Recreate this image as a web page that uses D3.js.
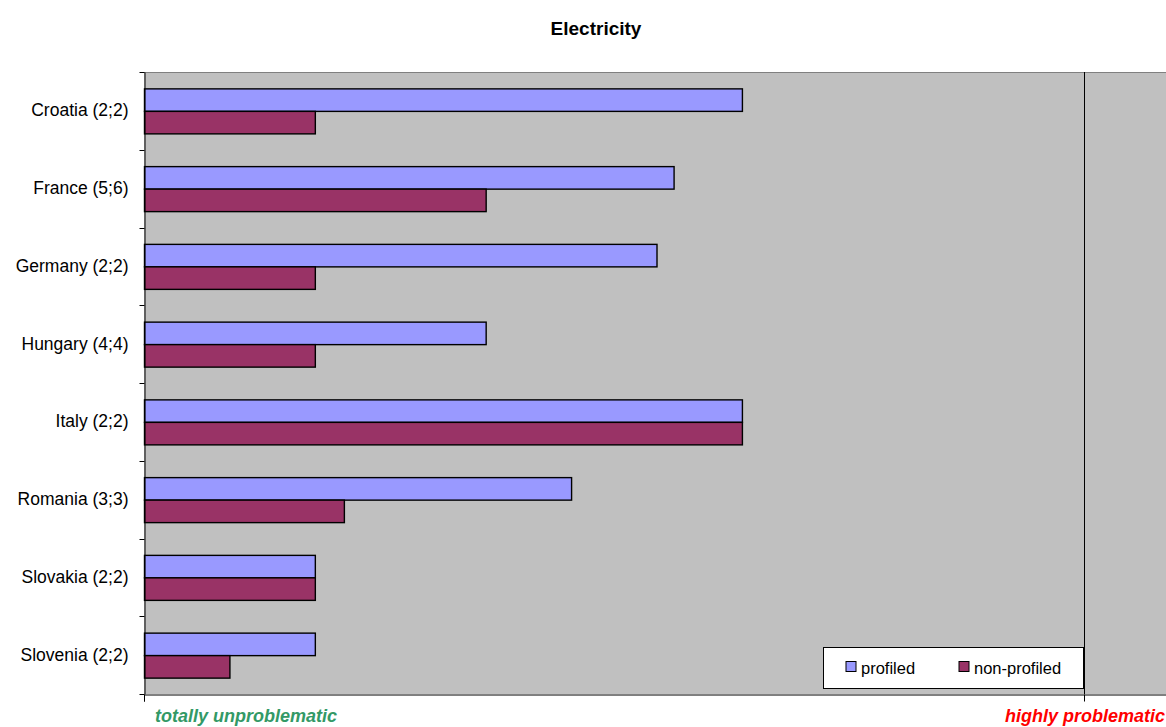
<!DOCTYPE html>
<html lang="en">
<head>
<meta charset="UTF-8">
<script src="https://cdn.jsdelivr.net/npm/d3@7"></script>
<style>
    * { margin: 0; padding: 0; }
    body { background: #fff; font-family: Arial, "Liberation Sans", Helvetica, sans-serif; }
    svg { display: block; }
</style>
<title>Electricity</title>
</head>
<body>
<div id="chart"></div>
<script>
    // data
    var countries = ["Croatia (2;2)", "France (5;6)", "Germany (2;2)", "Hungary (4;4)",
                     "Italy (2;2)", "Romania (3;3)", "Slovakia (2;2)", "Slovenia (2;2)"];
    var seriesNames = ["profiled", "non-profiled"];
    var profiled    = [3.5, 3.1, 3.0, 2.0, 3.5, 2.5, 1.0, 1.0];
    var nonProfiled = [1.0, 2.0, 1.0, 1.0, 3.5, 1.17, 1.0, 0.5];
    var xDomain = [0, 6];
    var gridAt = 5.5;

    var w = 1166, h = 727;
    // plot area (window.top is reserved, so use other names)
    // the value axis runs a little past the right edge of the page
    var plotL = 144, plotR = 1169, plotT = 72, plotB = 694;
    var colors = { "profiled": "#9999FF", "non-profiled": "#993366" };

    var rows = countries.map(function(c, i) {
        return { name: c, values: [
            { key: "profiled", v: profiled[i] },
            { key: "non-profiled", v: nonProfiled[i] }
        ]};
    });

    var svg = d3.select("#chart").append("svg")
        .attr("width", w).attr("height", h);

    var xScale = d3.scaleLinear().domain(xDomain).range([plotL, plotR]);
    var yScale = d3.scaleBand().domain(countries).range([plotT, plotB]).padding(0);
    var ySub = d3.scaleBand().domain(seriesNames)
        .range([0, yScale.bandwidth()]).paddingInner(0).paddingOuter(0.728);

    // plot background
    svg.append("rect")
        .attr("x", plotL).attr("y", plotT)
        .attr("width", plotR - plotL).attr("height", plotB - plotT)
        .attr("fill", "#C0C0C0");
    svg.append("line")
        .attr("x1", plotL).attr("x2", plotR)
        .attr("y1", plotT + 0.5).attr("y2", plotT + 0.5)
        .attr("stroke", "#808080");

    // vertical gridline
    var gx0 = Math.round(xScale(gridAt)) + 0.5;
    svg.append("line")
        .attr("x1", gx0).attr("x2", gx0)
        .attr("y1", plotT).attr("y2", plotB)
        .attr("stroke", "#000");

    // bars
    var groups = svg.append("g").selectAll("g")
        .data(rows).enter().append("g")
        .attr("transform", function(d) { return "translate(0," + yScale(d.name) + ")"; });

    groups.selectAll("rect")
        .data(function(d) { return d.values; })
        .enter().append("rect")
        .attr("x", xScale(0) + 0.5)
        .attr("y", function(d) { return ySub(d.key) + 0.5; })
        .attr("width", function(d) { return xScale(d.v) - xScale(0); })
        .attr("height", ySub.bandwidth())
        .attr("fill", function(d) { return colors[d.key]; })
        .attr("stroke", "#000")
        .attr("stroke-width", 1.4);

    // y axis with ticks between categories
    var yAxis = d3.axisLeft(yScale).tickSize(0).tickPadding(16);
    var gy = svg.append("g")
        .attr("transform", "translate(" + (plotL + 0.5) + ",0)")
        .call(yAxis);
    gy.select(".domain").attr("stroke", "#000");
    gy.selectAll("text").attr("font-size", "17.5px").attr("fill", "#000")
        .attr("font-family", "Arial, 'Liberation Sans', sans-serif");
    var bounds = countries.map(function(c) { return yScale(c); }).concat([plotB]);
    gy.selectAll(".sep").data(bounds).enter().append("line")
        .attr("class", "sep")
        .attr("x1", -5).attr("x2", 0)
        .attr("y1", function(d) { return Math.round(d) + 0.5; })
        .attr("y2", function(d) { return Math.round(d) + 0.5; })
        .attr("stroke", "#000");

    // x axis
    var xAxis = d3.axisBottom(xScale).tickValues([0, gridAt]).tickSize(7).tickFormat("");
    var gx = svg.append("g")
        .attr("transform", "translate(0," + (plotB + 0.5) + ")")
        .call(xAxis);
    gx.select(".domain").attr("stroke", "#000");
    gx.selectAll(".tick").attr("transform", function(d) {
        return "translate(" + (Math.round(xScale(d)) + 0.5) + ",0)";
    });
    gx.selectAll(".tick line").attr("stroke", "#000");

    // title
    svg.append("text")
        .attr("x", 596).attr("y", 35)
        .attr("text-anchor", "middle")
        .attr("font-size", "19px").attr("font-weight", "bold")
        .text("Electricity");

    // bottom scale labels
    svg.append("text")
        .attr("x", 155).attr("y", 722)
        .attr("font-size", "18px").attr("font-weight", "bold").attr("font-style", "italic")
        .attr("fill", "#339966")
        .text("totally unproblematic");
    svg.append("text")
        .attr("x", 1165).attr("y", 722)
        .attr("text-anchor", "end")
        .attr("font-size", "18px").attr("font-weight", "bold").attr("font-style", "italic")
        .attr("fill", "#FF0000")
        .text("highly problematic");

    // legend
    var legend = svg.append("g").attr("transform", "translate(823.5,647.5)");
    legend.append("rect")
        .attr("width", 260).attr("height", 41)
        .attr("fill", "#fff").attr("stroke", "#000");
    var legendX = [22.5, 135.5];
    seriesNames.forEach(function(s, i) {
        legend.append("rect")
            .attr("x", legendX[i]).attr("y", 14)
            .attr("width", 10).attr("height", 10)
            .attr("fill", colors[s]).attr("stroke", "#000");
        legend.append("text")
            .attr("x", legendX[i] + 15).attr("y", 26)
            .attr("font-size", "16.5px")
            .text(s);
    });
</script>
</body>
</html>
